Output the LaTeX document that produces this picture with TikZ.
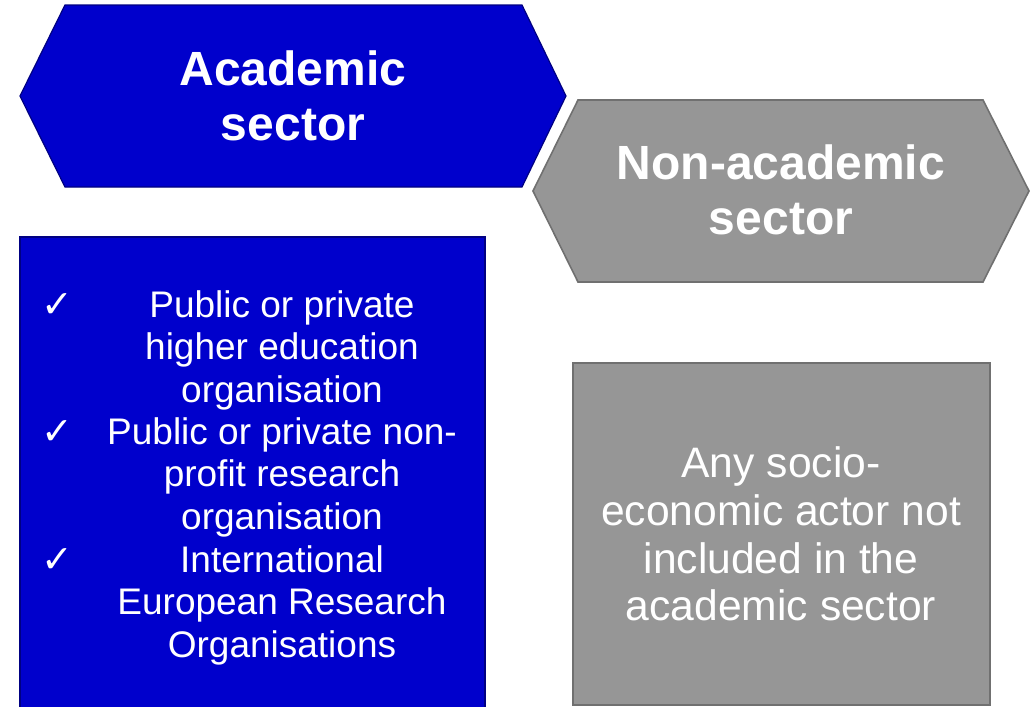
\documentclass[tikz,border=0pt]{standalone}
\usepackage{fontspec}
\setmainfont{Liberation Sans}
\newfontfamily\tickfont{DejaVu Sans}
\usetikzlibrary{positioning}
\definecolor{ACblue}{RGB}{0,0,204}
\definecolor{ACedge}{RGB}{0,0,130}
\definecolor{NAgrey}{RGB}{150,150,150}
\definecolor{NAedge}{RGB}{112,112,112}

\begin{document}
\begin{tikzpicture}[x=0.5pt, y=-0.5pt,
    acfill/.style={fill=ACblue, draw=ACedge, line width=0.6pt},
    nafill/.style={fill=NAgrey, draw=NAedge, line width=0.8pt},
    sectortitle/.style={text=white, align=center, inner sep=0pt,
      font=\fontsize{24}{27.6}\selectfont\bfseries},
    listitem/.style={text=white, align=center, inner sep=0pt,
      font=\fontsize{18.5}{21.25}\selectfont},
    tickmark/.style={text=white, inner sep=0pt,
      font=\tickfont\fontsize{19}{22}\selectfont\bfseries},
    nabody/.style={text=white, align=center, inner sep=0pt,
      font=\fontsize{21.3}{23.8}\selectfont}]
  \useasboundingbox (0,0) rectangle (1030,707);

  % sector headers
  \draw[acfill] (20,96) -- (65,5) -- (522,5) -- (566,96) -- (522,187) -- (65,187) -- cycle;
  \draw[nafill] (533,191) -- (578,100) -- (983,100) -- (1029,191) -- (983,282) -- (578,282) -- cycle;
  \node[sectortitle] (actitle) at (293,96) {Academic\\sector};
  \node[sectortitle] (natitle) at (781,190) {Non-academic\\sector};

  % bodies
  \fill[ACblue] (20,237) rectangle (485,707);
  \draw[ACedge, line width=0.6pt] (20,707) -- (20,237) -- (485,237) -- (485,707);
  \draw[nafill] (573,363) rectangle (990,705);

  \node[listitem, anchor=north] (item1) at (282,290) {Public or private\\higher education\\organisation};
  \node[listitem, anchor=north] (item2) at (282,417) {Public or private non-\\profit research\\organisation};
  \node[listitem, anchor=north] (item3) at (282,545) {International\\European Research\\Organisations};
  \foreach \n/\yy in {1/317,2/444,3/572}{
    \node[tickmark, anchor=base] (tick\n) at (57,\yy) {✓};
  }

  \node[nabody] (nabodytext) at (781,534) {Any socio-\\economic actor not\\included in the\\academic sector};
\end{tikzpicture}
\end{document}
